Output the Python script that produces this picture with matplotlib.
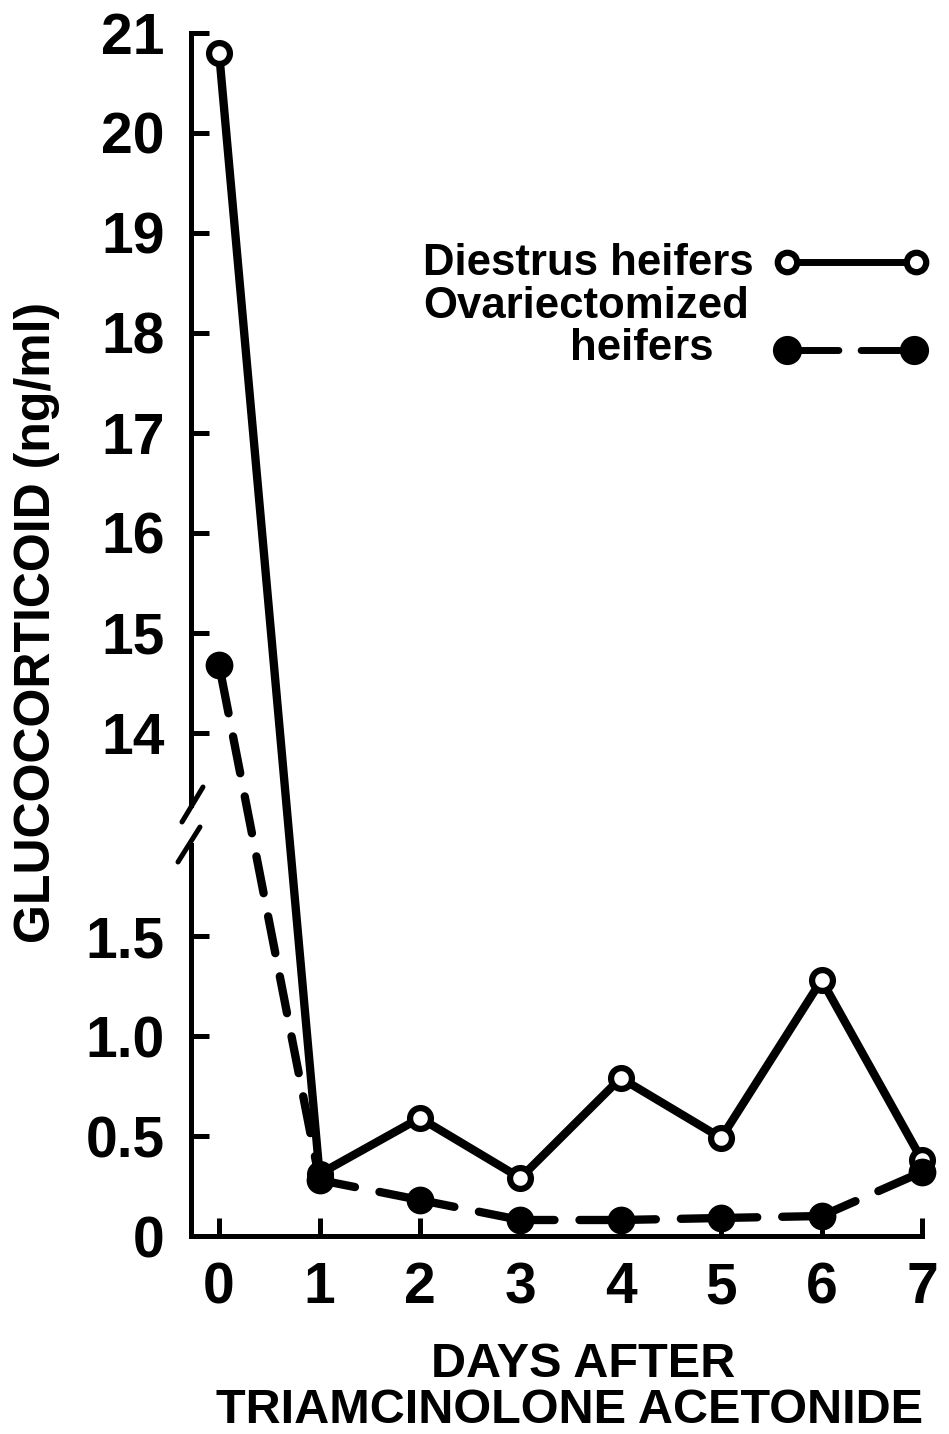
import numpy as np
import matplotlib
matplotlib.use("Agg")
import matplotlib.pyplot as plt
from matplotlib.lines import Line2D

# Data
days = [0, 1, 2, 3, 4, 5, 6, 7]
diestrus = [20.8, 0.31, 0.59, 0.29, 0.79, 0.49, 1.28, 0.38]
ovariectomized = [14.68, 0.28, 0.18, 0.08, 0.08, 0.09, 0.10, 0.32]

ytick_vals = [0, 0.5, 1.0, 1.5, 14, 15, 16, 17, 18, 19, 20, 21]
ytick_labels = ["0", "0.5", "1.0", "1.5", "14", "15", "16", "17", "18", "19", "20", "21"]

# broken y axis: 0-2 stretched, 14-21 normal
BREAK_V = [0, 2, 14, 21]
BREAK_F = [0, 4.0, 5.03, 12.03]


def fwd(v):
    return np.interp(v, BREAK_V, BREAK_F)


def inv(f):
    return np.interp(f, BREAK_F, BREAK_V)


plt.rcParams['font.family'] = ['Liberation Sans', 'DejaVu Sans']
plt.rcParams['font.weight'] = 'bold'
plt.rcParams['lines.scale_dashes'] = False

W, H = 949, 1434
fig = plt.figure(figsize=(W / 100, H / 100), dpi=100)


def px(x, y):
    return x / W, 1 - y / H


ax = fig.add_axes([191 / W, (H - 1236) / H, (922 - 191) / W, (1236 - 33) / H])
ax.set_yscale('function', functions=(fwd, inv))
ax.set_xlim(-0.28, 7)
ax.set_ylim(0, 21)

LW = 6
ax.plot(days, diestrus, color='black', lw=LW, solid_capstyle='round',
        marker='o', ms=15, mfc='white', mec='black', mew=4.5,
        clip_on=False, zorder=3)

# dashed series: steeper first leg drawn with shorter dashes, as in the original
ax.plot(days[:2], ovariectomized[:2], color='black', lw=LW,
        linestyle=(35.6, (27, 17)), dash_capstyle='round',
        clip_on=False, zorder=4)
ax.plot(days[1:], ovariectomized[1:], color='black', lw=LW,
        linestyle=(29, (55, 18)), dash_capstyle='round',
        clip_on=False, zorder=4)
ax.plot(days, ovariectomized, linestyle='none', marker='o', ms=20,
        mfc='black', mec='black', mew=0, clip_on=False, zorder=5)

ax.set_xticks(days, labels=[str(d) for d in days])
ax.set_yticks(ytick_vals, labels=ytick_labels)
ax.tick_params(direction='in', length=13, width=3.6, labelsize=41,
               colors='black')
ax.tick_params(axis='x', pad=18)
ax.tick_params(axis='y', pad=19)

for s in ['top', 'right', 'left']:
    ax.spines[s].set_visible(False)
ax.spines['bottom'].set_linewidth(3.6)

# left axis with the break
SPW = 3.6
upper = Line2D(*zip(px(191, 33), px(191, 805)), transform=fig.transFigure,
               color='black', lw=SPW, solid_capstyle='projecting')
lower = Line2D(*zip(px(191, 845), px(191, 1236)), transform=fig.transFigure,
               color='black', lw=SPW, solid_capstyle='projecting')
slash1 = Line2D(*zip(px(182, 822), px(203, 787)), transform=fig.transFigure,
                color='black', lw=SPW, solid_capstyle='round')
slash2 = Line2D(*zip(px(178, 862), px(200, 827)), transform=fig.transFigure,
                color='black', lw=SPW, solid_capstyle='round')
for a in [upper, lower, slash1, slash2]:
    fig.add_artist(a)

# legend
fig.text(*px(423, 275), "Diestrus heifers", fontsize=31.5, ha='left', va='baseline')
fig.text(*px(423, 318), "Ovariectomized", fontsize=31.5, ha='left', va='baseline')
fig.text(*px(570, 360), "heifers", fontsize=31.5, ha='left', va='baseline')

fig.add_artist(Line2D(*zip(px(787, 262), px(916, 262)), transform=fig.transFigure,
                      color='black', lw=5, marker='o', ms=14, mfc='white',
                      mec='black', mew=4.5))
fig.add_artist(Line2D(*zip(px(787, 350), px(914, 350)), transform=fig.transFigure,
                      color='black', lw=5, linestyle=(0, (37, 16)),
                      dash_capstyle='round', marker='o', ms=21, mfc='black',
                      mew=0))

# axis titles
fig.text(*px(37, 622), "GLUCOCORTICOID (ng/ml)", fontsize=36, rotation=90,
         ha='center', va='center')
fig.text(*px(583, 1377), "DAYS AFTER", fontsize=35, ha='center', va='baseline')
fig.text(*px(570, 1423), "TRIAMCINOLONE ACETONIDE", fontsize=35,
         ha='center', va='baseline')

fig.savefig("out.png", dpi=100, facecolor='white')
